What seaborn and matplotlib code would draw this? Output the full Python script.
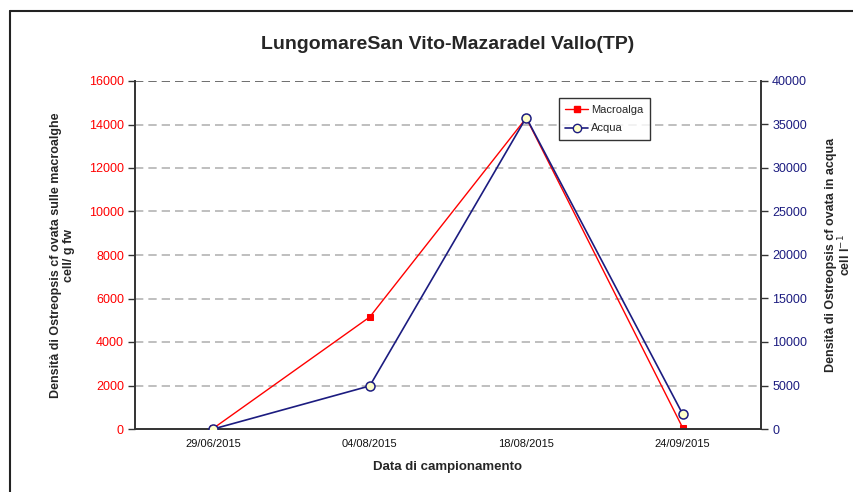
import matplotlib
matplotlib.use("Agg")
import matplotlib.pyplot as plt
from matplotlib.lines import Line2D
import seaborn as sns

# Sampling dates and Ostreopsis cf. ovata densities
dates = ["29/06/2015", "04/08/2015", "18/08/2015", "24/09/2015"]
macroalga = [30, 5150, 14300, 50]      # cell / g fw
acqua = [0, 4950, 35800, 1700]          # cell / l

left_ticks = [0, 2000, 4000, 6000, 8000, 10000, 12000, 14000, 16000]
right_ticks = [0, 5000, 10000, 15000, 20000, 25000, 30000, 35000, 40000]

sns.set_theme(style="white")
plt.rcParams["font.family"] = ["Liberation Sans", "DejaVu Sans"]

RED = "#ff0000"
NAVY = "#1c1c80"
DARK = "#333333"

fig = plt.figure(figsize=(8.54, 4.92), dpi=100)
ax = fig.add_axes([135 / 854, 1 - 429 / 492, 626 / 854, 348 / 492])
ax2 = ax.twinx()

sns.lineplot(x=dates, y=macroalga, ax=ax, sort=False, color=RED, linewidth=1,
             marker="s", markersize=5, markeredgecolor=RED, markerfacecolor=RED,
             legend=False)
sns.lineplot(x=dates, y=acqua, ax=ax2, sort=False, color=NAVY, linewidth=1.2,
             marker="o", markersize=6.5, markeredgecolor=NAVY, markeredgewidth=1.1,
             markerfacecolor="#ffffcc", legend=False)

ax.set_xlim(-0.5, 3.5)
ax.set_ylim(0, 16000)
ax2.set_ylim(0, 40000)
ax.set_yticks(left_ticks)
ax2.set_yticks(right_ticks)

# dashed horizontal gridlines
for v in left_ticks[1:-1]:
    ax.axhline(v, color="#b4b4b4", linestyle=(0, (5, 3)), linewidth=1.2, zorder=0)
ax.axhline(16000, color="#555555", linestyle=(0, (5, 3)), linewidth=1.2, zorder=0)

for a in (ax, ax2):
    a.grid(False)
    for s in a.spines.values():
        s.set_visible(False)
ax.spines["left"].set_visible(True)
ax.spines["bottom"].set_visible(True)
ax2.spines["right"].set_visible(True)
for s in (ax.spines["left"], ax.spines["bottom"], ax2.spines["right"]):
    s.set_color(DARK)
    s.set_linewidth(1.4)

ax.tick_params(axis="y", colors=DARK, labelcolor=RED, labelsize=9, direction="out",
               length=5, width=1, left=True, pad=3)
ax.tick_params(axis="x", labelsize=8, labelcolor="#111111", bottom=False, pad=1)
ax2.tick_params(axis="y", colors=DARK, labelcolor=NAVY, labelsize=9, direction="out",
                length=5, width=1, right=True, pad=3)

ax.set_xlabel("Data di campionamento", fontsize=9.5, fontweight="bold", labelpad=9)
ax.set_ylabel("Densità di Ostreopsis cf ovata sulle macroalghe\ncell/ g fw",
              fontsize=9, fontweight="bold", labelpad=10, linespacing=1.1)
ax2.set_ylabel("Densità di Ostreopsis cf ovata in acqua\ncell l$^{-1}$",
               fontsize=9, fontweight="bold", labelpad=13, linespacing=1.0)
ax.set_title("LungomareSan Vito-Mazaradel Vallo(TP)", fontsize=14,
             fontweight="bold", pad=23)

handles = [
    Line2D([], [], color=RED, linewidth=1, marker="s", markersize=5,
           markerfacecolor=RED, markeredgecolor=RED),
    Line2D([], [], color=NAVY, linewidth=1.2, marker="o", markersize=6,
           markerfacecolor="#ffffcc", markeredgecolor=NAVY),
]
leg = ax2.legend(handles, ["Macroalga", "Acqua"], loc="upper left",
                 bbox_to_anchor=(0.677, 0.95), fontsize=8, frameon=True,
                 fancybox=False, edgecolor="black", handlelength=2.0,
                 borderpad=0.6, labelspacing=0.75, handletextpad=0.3,
                 borderaxespad=0)
leg.get_frame().set_linewidth(1.0)

# outer chart frame
fig.add_artist(Line2D([10 / 854, 10 / 854], [0, 1 - 11 / 492], color="#222222",
                      linewidth=1.5, transform=fig.transFigure))
fig.add_artist(Line2D([10 / 854, 1], [1 - 11 / 492, 1 - 11 / 492], color="#222222",
                      linewidth=1.5, transform=fig.transFigure))

fig.savefig("out.png", dpi=100, facecolor="white")
